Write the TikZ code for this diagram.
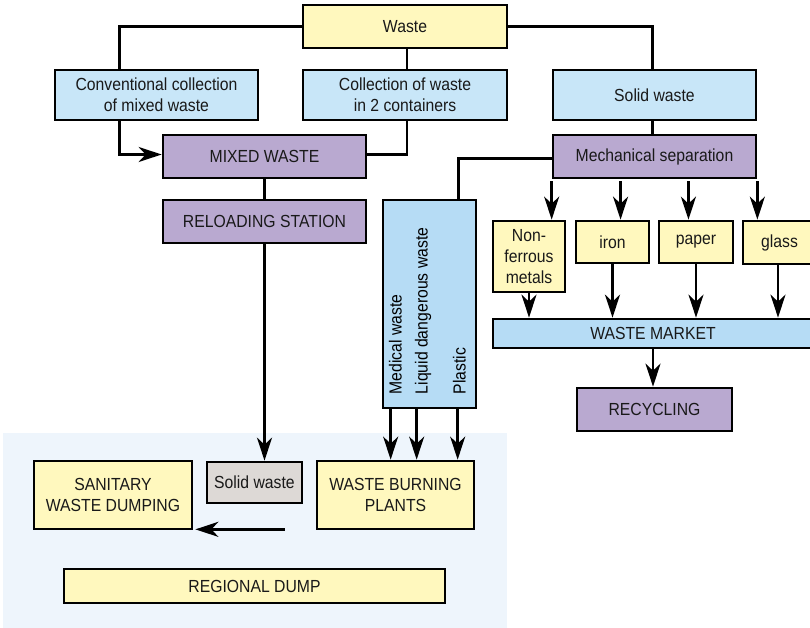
\documentclass[tikz,border=0pt]{standalone}
\usepackage{fontspec}
\setmainfont{Liberation Sans}[FakeStretch=0.9]
\usetikzlibrary{arrows.meta,calc}
\definecolor{cyel}{HTML}{FFF8BE}
\definecolor{cblu}{HTML}{C8E6F8}
\definecolor{cblu2}{HTML}{B6DCF5}
\definecolor{cpur}{HTML}{B9A9D0}
\definecolor{cgry}{HTML}{DDD9D6}
\definecolor{cbg}{HTML}{EEF5FC}
\tikzset{
  box/.style={draw=black, line width=2.7pt, inner sep=0pt, align=center,
    font=\fontsize{17.5}{21}\selectfont, text=black!90},
  yel/.style={box, fill=cyel},
  blu/.style={box, fill=cblu},
  blu2/.style={box, fill=cblu2},
  pur/.style={box, fill=cpur},
  gry/.style={box, fill=cgry},
  conn/.style={line width=2.7pt},
  arr/.style={conn, -{Stealth[length=23pt,width=15pt,inset=7pt]}},
  vlab/.style={rotate=90, anchor=base west, inner sep=0pt, font=\fontsize{17.5}{21}\selectfont},
}
\begin{document}
\begin{tikzpicture}[x=1pt,y=-1pt]
\useasboundingbox (0,0) rectangle (810,628);
\clip (0,0) rectangle (810,628);
\fill[cbg] (3,433) rectangle (507,628);
% top level
\node[yel, minimum width=204, minimum height=43] (waste) at (405,26.5) {Waste};
\node[blu, minimum width=203, minimum height=50] (conv) at (156.5,95) {Conventional collection\\of mixed waste};
\node[blu, minimum width=204, minimum height=50] (coll) at (405,95) {Collection of waste\\in 2 containers};
\node[blu, minimum width=203, minimum height=50] (solid) at (654.5,95) {Solid waste};
\node[pur, minimum width=203, minimum height=43] (mixed) at (264.5,156.5) {MIXED WASTE};
\node[pur, minimum width=203, minimum height=43] (reload) at (264.5,221.5) {RELOADING STATION};
\node[pur, minimum width=203, minimum height=43] (mech) at (654.5,156.5) {Mechanical separation};
\node[blu2, minimum width=93, minimum height=208] (tall) at (429.5,304) {};
\node[vlab] (med) at ([xshift=20pt,yshift=15pt]tall.south west) {Medical waste};
\node[vlab] (liq) at ([xshift=46pt,yshift=15pt]tall.south west) {Liquid dangerous waste};
\node[vlab] (pla) at ([xshift=84pt,yshift=15pt]tall.south west) {Plastic};
\node[yel, minimum width=72, minimum height=71] (nf) at (529,256.5) {Non-\\ferrous\\metals};
\node[yel, minimum width=73, minimum height=42] (iron) at (612.5,242) {iron};
\node[yel, minimum width=74, minimum height=42] (paper) at (696,242) {paper};
\node[yel, minimum width=73, minimum height=43] (glass) at (779.5,242.5) {glass};
\node[blu2, minimum width=320, minimum height=29] (market) at (653,333.5) {WASTE MARKET};
\node[pur, minimum width=155, minimum height=43] (recyc) at (654.5,409.5) {RECYCLING};
% bottom region
\node[gry, minimum width=95, minimum height=41] (sw) at (254.5,482.5) {Solid waste};
\node[yel, minimum width=158, minimum height=68] (san) at (113,495) {SANITARY\\WASTE DUMPING};
\node[yel, minimum width=157, minimum height=68] (burn) at (395.5,495) {WASTE BURNING\\PLANTS};
\node[yel, minimum width=381, minimum height=34] (reg) at (254.5,586) {REGIONAL DUMP};
% connectors
\draw[conn] (waste.west) -| ([xshift=66pt]conv.north west);
\draw[conn] (waste.east) -| ([xshift=-2pt]solid.north);
\draw[conn] ([xshift=2pt]waste.south) -- ([xshift=2pt]coll.north);
\draw[arr] ([xshift=66pt]conv.south west) |- ([yshift=2pt]mixed.west);
\draw[conn] ([xshift=2pt]coll.south) |- ([yshift=2pt]mixed.east);
\draw[conn] (mixed.south) -- (reload.south |- reload.north);
\draw[arr] (reload.south) -- (reload.south |- sw.north);
\draw[conn] ([xshift=-2pt]solid.south) -- ([xshift=-2pt]mech.north);
\draw[conn] ([yshift=-2pt]mech.west) -| ([xshift=77pt]tall.north west);
\coordinate (m1) at (mech.south west);
\coordinate (m2) at ($(mech.south west)!0.335!(mech.south east)$);
\coordinate (m3) at ($(mech.south west)!0.665!(mech.south east)$);
\coordinate (m4) at (mech.south east);
\draw[arr, shorten <=2pt] (m1) -- (m1 |- nf.north);
\draw[arr, shorten <=2pt] (m2) -- (m2 |- iron.north);
\draw[arr, shorten <=2pt] (m3) -- (m3 |- paper.north);
\draw[arr, shorten <=2pt] (m4) -- (m4 |- glass.north);
\draw[arr] (nf.south) -- (nf.south |- market.north);
\draw[arr] (iron.south) -- (iron.south |- market.north);
\draw[arr] (paper.south) -- (paper.south |- market.north);
\draw[arr] ([xshift=-1.5pt]glass.south) -- ([xshift=-1.5pt]glass.south |- market.north);
\draw[arr] (market.south) -- (market.south |- recyc.north);
\draw[arr] ([xshift=9pt]tall.south west) -- ([xshift=9pt]tall.south west |- burn.north);
\draw[arr] ([xshift=35pt]tall.south west) -- ([xshift=35pt]tall.south west |- burn.north);
\draw[arr] ([xshift=76pt]tall.south west) -- ([xshift=76pt]tall.south west |- burn.north);
\coordinate (bstart) at ([xshift=-31pt,yshift=1pt]burn.south west);
\draw[arr] (bstart) -- ([xshift=2pt]bstart -| san.east);
\end{tikzpicture}
\end{document}
